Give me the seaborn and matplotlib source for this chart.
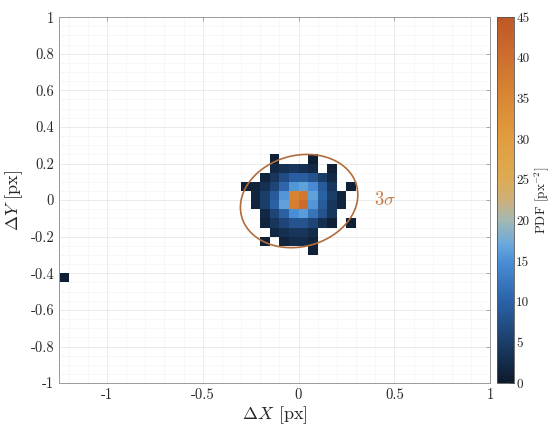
import numpy as np
import pandas as pd
import seaborn as sns
import matplotlib.pyplot as plt

from matplotlib.colors import LinearSegmentedColormap
from matplotlib.ticker import MultipleLocator, FuncFormatter

# ============================================================ DATA ============================================================

# bin centres of the populated cluster (bin width 0.05 px)
x_centers = [-0.275, -0.225, -0.175, -0.125, -0.075, -0.025, 0.025, 0.075, 0.125, 0.175, 0.225, 0.275]
y_centers = [0.225, 0.175, 0.125, 0.075, 0.025, -0.025, -0.075, -0.125, -0.175, -0.225, -0.275]

# PDF per bin [px^-2], rows follow y_centers, columns follow x_centers
pdf_rows = [
    [0.0, 0.0, 0.0, 1.0, 0.0, 0.0, 0.0, 0.8, 0.0, 0.0, 0.0, 0.0],
    [0.0, 0.0, 0.0, 2.0, 3.0, 4.0, 3.0, 2.0, 0.0, 1.0, 0.0, 0.0],
    [0.0, 0.0, 1.5, 4.0, 7.0, 9.5, 9.5, 8.0, 5.0, 2.0, 0.0, 0.0],
    [1.0, 1.5, 3.0, 6.0, 10.5, 15.5, 16.5, 14.5, 9.0, 4.0, 0.0, 1.0],
    [0.0, 1.5, 5.0, 9.0, 15.5, 36.0, 38.0, 16.5, 10.0, 5.0, 1.5, 0.0],
    [0.0, 1.5, 5.0, 10.0, 16.5, 37.0, 41.0, 15.5, 9.0, 4.0, 1.5, 0.0],
    [0.0, 0.0, 2.0, 6.0, 10.0, 15.0, 16.0, 12.0, 8.0, 4.0, 0.0, 0.0],
    [0.0, 0.0, 1.5, 4.0, 6.0, 8.0, 8.0, 6.0, 3.0, 1.0, 0.0, 1.0],
    [0.0, 0.0, 0.0, 2.0, 3.0, 4.0, 4.0, 2.5, 0.0, 0.0, 0.0, 0.0],
    [0.0, 0.0, 1.0, 0.0, 1.5, 2.5, 2.5, 1.5, 0.0, 0.0, 0.0, 0.0],
    [0.0, 0.0, 0.0, 0.0, 0.0, 0.0, 0.0, 1.0, 0.0, 0.0, 0.0, 0.0],
]

# isolated outlier bin
outlier_x   = [-1.225]
outlier_y   = [-0.425]
outlier_pdf = [0.8]

# 3-sigma ellipse parameters
ellipse_center = (0.003, -0.005)
ellipse_axes   = (0.312, 0.248)
ellipse_angle  = 18.0

cbar_ticks = [0, 5, 10, 15, 20, 25, 30, 35, 40, 45]

# ============================================================ BUILD TABLE ============================================================

xx, yy = np.meshgrid(x_centers, y_centers)
values = np.array(pdf_rows)
mask   = values > 0
df = pd.DataFrame({"dx": np.r_[xx[mask], outlier_x],
                   "dy": np.r_[yy[mask], outlier_y],
                   "pdf": np.r_[values[mask], outlier_pdf]})

x_edges = np.linspace(-1.25, 1.0, 46)
y_edges = np.linspace(-1.0, 1.0, 41)

cmap = LinearSegmentedColormap.from_list("pdf", [
    (0.000, "#0c1a2c"), (0.111, "#1b3e6a"), (0.222, "#2a62a6"), (0.333, "#4a8fd6"),
    (0.380, "#6aa9dc"), (0.444, "#a3b8b4"), (0.500, "#cdb07a"), (0.556, "#ddab55"),
    (0.667, "#e09e3e"), (0.778, "#d98834"), (0.889, "#cd6f2f"), (1.000, "#bf5727")])

# ============================================================ PLOT ============================================================

sns.set_theme(style="white")
plt.rcParams["font.family"]        = ["cmr10", "DejaVu Serif"]
plt.rcParams["mathtext.fontset"]   = "cm"
plt.rcParams["axes.unicode_minus"] = False

fig = plt.figure(figsize=(5.57, 4.29), dpi=100)
ax  = fig.add_axes([0.106, 0.107, 0.774, 0.853])
cax = fig.add_axes([0.893, 0.107, 0.029, 0.853])

sns.histplot(data=df, x="dx", y="dy", weights="pdf", bins=(x_edges, y_edges),
             cmap=cmap, vmin=0, vmax=45, cbar=True, cbar_ax=cax, ax=ax, zorder=2)

# 3 sigma ellipse
t  = np.linspace(0, 2 * np.pi, 300)
th = np.deg2rad(ellipse_angle)
ex = ellipse_center[0] + ellipse_axes[0] * np.cos(t) * np.cos(th) - ellipse_axes[1] * np.sin(t) * np.sin(th)
ey = ellipse_center[1] + ellipse_axes[0] * np.cos(t) * np.sin(th) + ellipse_axes[1] * np.sin(t) * np.cos(th)
ax.plot(ex, ey, color="#b06c3c", lw=1.2, zorder=3)
ax.text(0.45, 0.0, r"$3\sigma$", color="#c97a45", fontsize=13.5, ha="center", va="center")

ax.set_xlim(-1.25, 1.0)
ax.set_ylim(-1.0, 1.0)
ax.xaxis.set_major_locator(MultipleLocator(0.5))
ax.yaxis.set_major_locator(MultipleLocator(0.2))
ax.xaxis.set_minor_locator(MultipleLocator(0.1))
ax.yaxis.set_minor_locator(MultipleLocator(0.05))
fmt = FuncFormatter(lambda v, p: "0" if abs(v) < 1e-9 else ("%g" % round(v, 2)))
ax.xaxis.set_major_formatter(fmt)
ax.yaxis.set_major_formatter(fmt)

ax.grid(which="major", color="#e8e8e8", lw=0.6, zorder=0)
ax.grid(which="minor", color="#f4f4f4", lw=0.5, zorder=0)
ax.set_axisbelow(True)
ax.tick_params(which="both", direction="in", top=True, right=True, colors="#9a9a9a",
               labelcolor="#262626", labelsize=10.5, length=3, width=0.6)
ax.tick_params(which="minor", length=0)
for s in ax.spines.values():
    s.set_color("#9a9a9a")
    s.set_linewidth(0.7)

ax.set_xlabel(r"$\Delta X$ [px]", fontsize=13, color="#262626", labelpad=2)
ax.set_ylabel(r"$\Delta Y$ [px]", fontsize=13, color="#262626", labelpad=4)

cax.yaxis.set_ticks(cbar_ticks)
cax.tick_params(direction="in", length=3, width=0.6, labelsize=9.5, colors="#262626", right=True, pad=2)
cax.set_ylabel(r"PDF [px$^{-2}$]", fontsize=9.5, color="#262626", labelpad=2)
for s in cax.spines.values():
    s.set_color("#555555")
    s.set_linewidth(0.6)

plt.savefig("out.png", dpi=100)
